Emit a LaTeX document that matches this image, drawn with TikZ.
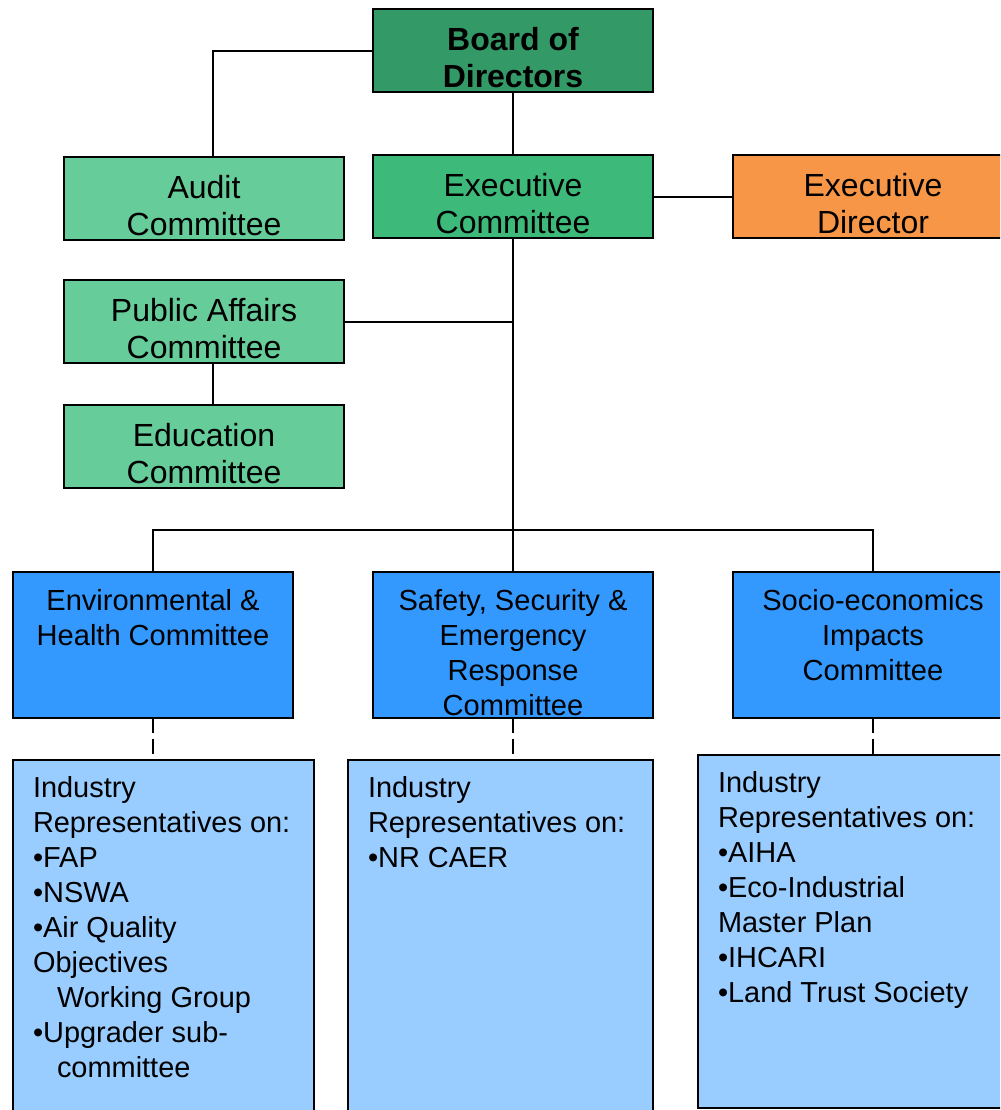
\documentclass[tikz,border=0pt]{standalone}
\usepackage{fontspec}
\setmainfont{Liberation Sans}
\definecolor{boardgreen}{HTML}{339966}
\definecolor{execgreen}{HTML}{3DB97A}
\definecolor{lightgreen}{HTML}{66CC99}
\definecolor{directororange}{HTML}{F79646}
\definecolor{commblue}{HTML}{3399FF}
\definecolor{repblue}{HTML}{99CCFF}

\begin{document}
\begin{tikzpicture}[x=0.75pt, y=-0.75pt,
  every node/.style={outer sep=0pt, inner sep=0pt},
  topbox/.style={draw=black, line width=1.8pt, minimum width=210pt, minimum height=62.25pt},
  commbox/.style={draw=black, line width=1.8pt, fill=commblue, minimum width=210pt, minimum height=109.5pt},
  repbox/.style={draw=black, line width=1.5pt, fill=repblue, anchor=north west},
  toptext/.style={anchor=north, align=center, font=\fontsize{24}{27.75}\selectfont},
  commtext/.style={anchor=north, align=center, font=\fontsize{21.8}{26.25}\selectfont},
  reptext/.style={anchor=north west, align=left, font=\fontsize{21.7}{26.25}\selectfont},
  link/.style={line width=1.5pt},
  dashlink/.style={line width=1.5pt, dash pattern=on 11pt off 5pt}]
\clip (0,0) rectangle (1000,1110);

% top row
\node[topbox, fill=boardgreen] (board) at (513,50.5) {};
\node[toptext, font=\fontsize{24}{27.75}\selectfont\bfseries] (boardtxt) at (513,27) {Board of\\Directors};
\node[topbox, fill=lightgreen] (audit) at (204,198.5) {};
\node[toptext] (audittxt) at (204,175) {Audit\\Committee};
\node[topbox, fill=execgreen] (exec) at (513,196.5) {};
\node[toptext] (exectxt) at (513,173) {Executive\\Committee};
\node[topbox, fill=directororange] (director) at (873,196.5) {};
\node[toptext] (directortxt) at (873,173) {Executive\\Director};
\node[topbox, fill=lightgreen] (pub) at (204,321.5) {};
\node[toptext] (pubtxt) at (204,298) {Public Affairs\\Committee};
\node[topbox, fill=lightgreen] (edu) at (204,446.5) {};
\node[toptext] (edutxt) at (204,423) {Education\\Committee};

% committees
\node[commbox] (env) at (153,645) {};
\node[commtext] (envtxt) at (153,589) {Environmental \&\\Health Committee};
\node[commbox] (safety) at (513,645) {};
\node[commtext] (safetytxt) at (513,589) {Safety, Security \&\\Emergency\\Response\\Committee};
\node[commbox] (socio) at (873,645) {};
\node[commtext] (sociotxt) at (873,589) {Socio-economics\\Impacts\\Committee};

% industry representatives
\node[repbox, minimum width=225.75pt, minimum height=270pt] (envrep) at (13,760) {};
\node[reptext] (envreptxt) at (33,777) {Industry\\Representatives on:\\•FAP\\•NSWA\\•Air Quality\\Objectives\\\hspace*{18pt}Working Group\\•Upgrader sub-\\\hspace*{18pt}committee};
\node[repbox, minimum width=228.75pt, minimum height=270pt] (safetyrep) at (348,760) {};
\node[reptext] (safetyreptxt) at (368,777) {Industry\\Representatives on:\\•NR CAER};
\node[repbox, minimum width=236.25pt, minimum height=264.75pt] (sociorep) at (698,755) {};
\node[reptext] (socioreptxt) at (718,772) {Industry\\Representatives on:\\•AIHA\\•Eco-Industrial\\Master Plan\\•IHCARI\\•Land Trust Society};

% connectors
\draw[link] (board.west) -| ([xshift=6.75pt]audit.north);
\draw[link] (board.south) -- (exec.north);
\draw[link] (exec.east) -- (director.west);
\draw[link] (exec.south) -- (safety.north);
\draw[link] (pub.east) -- (pub.east -| exec.south);
\draw[link] ([xshift=6.75pt]pub.south) -- ([xshift=6.75pt]edu.north);
\coordinate (bar) at (513,530);
\draw[link] (env.north) |- (bar) -| (socio.north);
\draw[dashlink] (env.south) -- (env.south |- envrep.north);
\draw[dashlink] (safety.south) -- (safety.south |- safetyrep.north);
\draw[dashlink] (socio.south) -- (socio.south |- sociorep.north);
\end{tikzpicture}
\end{document}
